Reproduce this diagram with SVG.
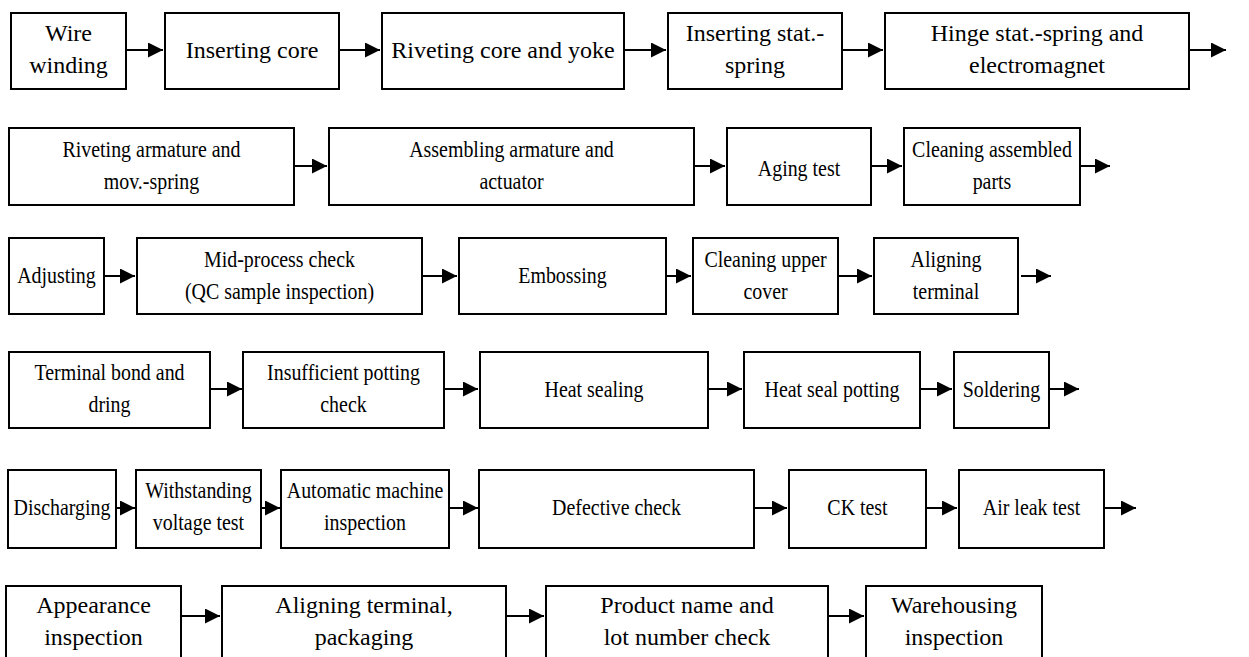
<svg xmlns="http://www.w3.org/2000/svg" width="1249" height="657" viewBox="0 0 1249 657">
<style>
.b{fill:#fff;stroke:#000;stroke-width:2}
.t{font-family:"Liberation Serif","Times New Roman",serif;font-size:24px;fill:#000;text-anchor:middle}
.c{stroke:#000;stroke-width:2;fill:none;marker-end:url(#ah)}
</style>
<defs>
<marker id="ah" markerUnits="userSpaceOnUse" markerWidth="15" markerHeight="15" refX="15" refY="7.5" orient="auto"><path d="M0,0 L15,7.5 L0,15 z" fill="#000"/></marker>
</defs>
<rect width="1249" height="657" fill="#fff"/>
<g id="connectors">
<line class="c" x1="126" y1="50" x2="163" y2="50"/>
<line class="c" x1="339" y1="50" x2="380" y2="50"/>
<line class="c" x1="624" y1="50" x2="666" y2="50"/>
<line class="c" x1="842" y1="50" x2="883" y2="50"/>
<line class="c" x1="1189" y1="50" x2="1226" y2="50"/>
<line class="c" x1="294" y1="166" x2="327" y2="166"/>
<line class="c" x1="694" y1="166" x2="725" y2="166"/>
<line class="c" x1="871" y1="166" x2="902" y2="166"/>
<line class="c" x1="1080" y1="166" x2="1110" y2="166"/>
<line class="c" x1="104" y1="276" x2="135" y2="276"/>
<line class="c" x1="422" y1="276" x2="457" y2="276"/>
<line class="c" x1="666" y1="276" x2="691" y2="276"/>
<line class="c" x1="838" y1="276" x2="872" y2="276"/>
<line class="c" x1="1021" y1="276" x2="1051" y2="276"/>
<line class="c" x1="210" y1="389" x2="242" y2="389"/>
<line class="c" x1="444" y1="389" x2="478" y2="389"/>
<line class="c" x1="708" y1="389" x2="742" y2="389"/>
<line class="c" x1="920" y1="389" x2="952" y2="389"/>
<line class="c" x1="1049" y1="389" x2="1079" y2="389"/>
<line class="c" x1="116" y1="508" x2="135" y2="508"/>
<line class="c" x1="261" y1="508" x2="280" y2="508"/>
<line class="c" x1="449" y1="508" x2="478" y2="508"/>
<line class="c" x1="754" y1="508" x2="787" y2="508"/>
<line class="c" x1="926" y1="508" x2="957" y2="508"/>
<line class="c" x1="1104" y1="508" x2="1136" y2="508"/>
<line class="c" x1="181" y1="616" x2="220" y2="616"/>
<line class="c" x1="506" y1="616" x2="544" y2="616"/>
<line class="c" x1="828" y1="616" x2="864" y2="616"/>
</g>
<g id="n1"><rect class="b" x="11" y="13" width="115" height="76"/><text class="t" x="68.5" y="41">Wire</text><text class="t" x="68.5" y="73">winding</text></g>
<g id="n2"><rect class="b" x="165" y="13" width="174" height="76"/><text class="t" x="252" y="58">Inserting core</text></g>
<g id="n3"><rect class="b" x="382" y="13" width="242" height="76"/><text class="t" x="503" y="58">Riveting core and yoke</text></g>
<g id="n4"><rect class="b" x="668" y="13" width="174" height="76"/><text class="t" x="755" y="41">Inserting stat.-</text><text class="t" x="755" y="73">spring</text></g>
<g id="n5"><rect class="b" x="885" y="13" width="304" height="76"/><text class="t" x="1037" y="41">Hinge stat.-spring and</text><text class="t" x="1037" y="73">electromagnet</text></g>
<g id="n6"><rect class="b" x="9" y="128" width="285" height="77"/><text class="t" transform="translate(151.5,0) scale(0.83,1)" y="157">Riveting armature and</text><text class="t" transform="translate(151.5,0) scale(0.83,1)" y="189">mov.-spring</text></g>
<g id="n7"><rect class="b" x="329" y="128" width="365" height="77"/><text class="t" transform="translate(511.5,0) scale(0.83,1)" y="157">Assembling armature and</text><text class="t" transform="translate(511.5,0) scale(0.83,1)" y="189">actuator</text></g>
<g id="n8"><rect class="b" x="727" y="128" width="144" height="77"/><text class="t" transform="translate(799,0) scale(0.83,1)" y="176">Aging test</text></g>
<g id="n9"><rect class="b" x="904" y="128" width="176" height="77"/><text class="t" transform="translate(992,0) scale(0.83,1)" y="157">Cleaning assembled</text><text class="t" transform="translate(992,0) scale(0.83,1)" y="189">parts</text></g>
<g id="n10"><rect class="b" x="9" y="238" width="95" height="76"/><text class="t" transform="translate(56.5,0) scale(0.83,1)" y="283">Adjusting</text></g>
<g id="n11"><rect class="b" x="137" y="238" width="285" height="76"/><text class="t" transform="translate(279.5,0) scale(0.83,1)" y="267">Mid-process check</text><text class="t" transform="translate(279.5,0) scale(0.83,1)" y="299">(QC sample inspection)</text></g>
<g id="n12"><rect class="b" x="459" y="238" width="207" height="76"/><text class="t" transform="translate(562.5,0) scale(0.83,1)" y="283">Embossing</text></g>
<g id="n13"><rect class="b" x="693" y="238" width="145" height="76"/><text class="t" transform="translate(765.5,0) scale(0.83,1)" y="267">Cleaning upper</text><text class="t" transform="translate(765.5,0) scale(0.83,1)" y="299">cover</text></g>
<g id="n14"><rect class="b" x="874" y="238" width="144" height="76"/><text class="t" transform="translate(946,0) scale(0.83,1)" y="267">Aligning</text><text class="t" transform="translate(946,0) scale(0.83,1)" y="299">terminal</text></g>
<g id="n15"><rect class="b" x="9" y="352" width="201" height="76"/><text class="t" transform="translate(109.5,0) scale(0.83,1)" y="380">Terminal bond and</text><text class="t" transform="translate(109.5,0) scale(0.83,1)" y="412">dring</text></g>
<g id="n16"><rect class="b" x="243" y="352" width="201" height="76"/><text class="t" transform="translate(343.5,0) scale(0.83,1)" y="380">Insufficient potting</text><text class="t" transform="translate(343.5,0) scale(0.83,1)" y="412">check</text></g>
<g id="n17"><rect class="b" x="480" y="352" width="228" height="76"/><text class="t" transform="translate(594,0) scale(0.83,1)" y="397">Heat sealing</text></g>
<g id="n18"><rect class="b" x="744" y="352" width="176" height="76"/><text class="t" transform="translate(832,0) scale(0.83,1)" y="397">Heat seal potting</text></g>
<g id="n19"><rect class="b" x="954" y="352" width="95" height="76"/><text class="t" transform="translate(1001.5,0) scale(0.83,1)" y="397">Soldering</text></g>
<g id="n20"><rect class="b" x="8" y="470" width="108" height="78"/><text class="t" transform="translate(62,0) scale(0.83,1)" y="515">Discharging</text></g>
<g id="n21"><rect class="b" x="136" y="470" width="125" height="78"/><text class="t" transform="translate(198.5,0) scale(0.83,1)" y="498">Withstanding</text><text class="t" transform="translate(198.5,0) scale(0.83,1)" y="530">voltage test</text></g>
<g id="n22"><rect class="b" x="281" y="470" width="168" height="78"/><text class="t" transform="translate(365,0) scale(0.83,1)" y="498">Automatic machine</text><text class="t" transform="translate(365,0) scale(0.83,1)" y="530">inspection</text></g>
<g id="n23"><rect class="b" x="479" y="470" width="275" height="78"/><text class="t" transform="translate(616.5,0) scale(0.83,1)" y="515">Defective check</text></g>
<g id="n24"><rect class="b" x="789" y="470" width="137" height="78"/><text class="t" transform="translate(857.5,0) scale(0.83,1)" y="515">CK test</text></g>
<g id="n25"><rect class="b" x="959" y="470" width="145" height="78"/><text class="t" transform="translate(1031.5,0) scale(0.83,1)" y="515">Air leak test</text></g>
<g id="n26"><rect class="b" x="6" y="586" width="175" height="78"/><text class="t" x="93.5" y="613">Appearance</text><text class="t" x="93.5" y="645">inspection</text></g>
<g id="n27"><rect class="b" x="222" y="586" width="284" height="78"/><text class="t" x="364" y="613">Aligning terminal,</text><text class="t" x="364" y="645">packaging</text></g>
<g id="n28"><rect class="b" x="546" y="586" width="282" height="78"/><text class="t" x="687" y="613">Product name and</text><text class="t" x="687" y="645">lot number check</text></g>
<g id="n29"><rect class="b" x="866" y="586" width="176" height="78"/><text class="t" x="954" y="613">Warehousing</text><text class="t" x="954" y="645">inspection</text></g>
</svg>
